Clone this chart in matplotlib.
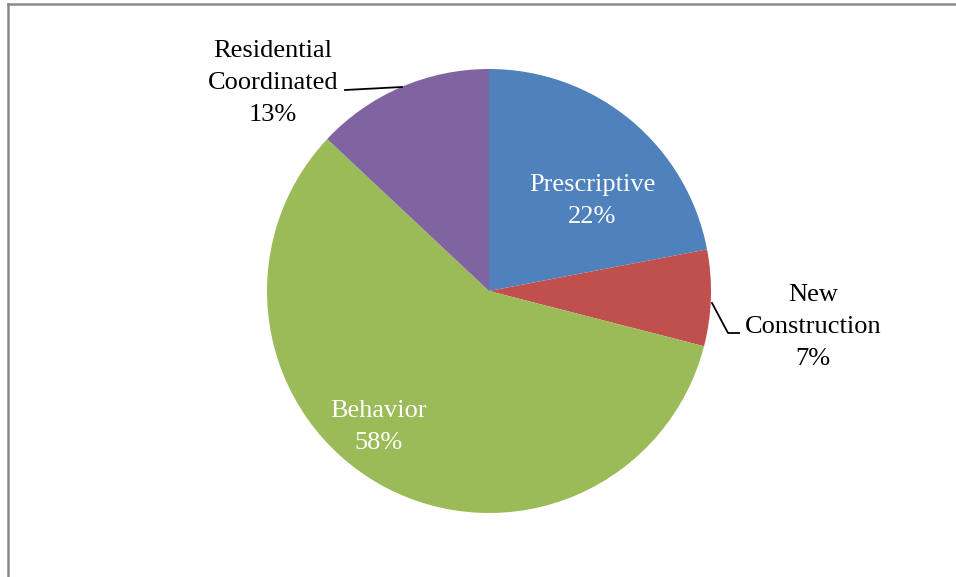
import matplotlib
matplotlib.use("Agg")
import matplotlib.pyplot as plt
from matplotlib.lines import Line2D

categories = ["Prescriptive", "New\nConstruction", "Behavior", "Residential\nCoordinated"]
shares = [22, 7, 58, 13]
colors = ["#4F81BD", "#C0504D", "#9BBB59", "#8064A2"]

W, H = 956, 577
fig = plt.figure(figsize=(W / 100, H / 100), dpi=100)
ax = fig.add_axes([0, 0, 1, 1])

cx, cy, r = 489, H - 291, 222
wedges, _ = ax.pie(shares, colors=colors, startangle=90, counterclock=False,
                   center=(cx, cy), radius=r, frame=True,
                   wedgeprops=dict(linewidth=0))
ax.set_xlim(0, W)
ax.set_ylim(0, H)
ax.set_aspect("equal")
ax.axis("off")

font = dict(family="Liberation Serif", fontsize=19, ha="center", va="center",
            linespacing=1.56)

labels = [f"{c}\n{v}%" for c, v in zip(categories, shares)]
# inside labels
ax.text(592, H - 201, labels[0], color="white", **font)
ax.text(379, H - 427, labels[2], color="white", **font)
# outside labels with leader lines
ax.text(813, H - 327, labels[1], color="black", **font)
ax.text(273, H - 83, labels[3], color="black", **font)
ax.plot([712, 728, 739], [H - 303, H - 333, H - 333], color="black", lw=1.3)
ax.plot([345, 402], [H - 90, H - 87], color="black", lw=1.3)

# chart frame (top and left edges)
frame = "#8a8a8a"
fig.add_artist(Line2D([8 / W, 1], [1 - 3.5 / H, 1 - 3.5 / H], color=frame, lw=1.8,
                      transform=fig.transFigure))
fig.add_artist(Line2D([8 / W, 8 / W], [0, 1 - 3.5 / H], color=frame, lw=1.8,
                      transform=fig.transFigure))

fig.savefig("out.png", dpi=100, facecolor="white")
